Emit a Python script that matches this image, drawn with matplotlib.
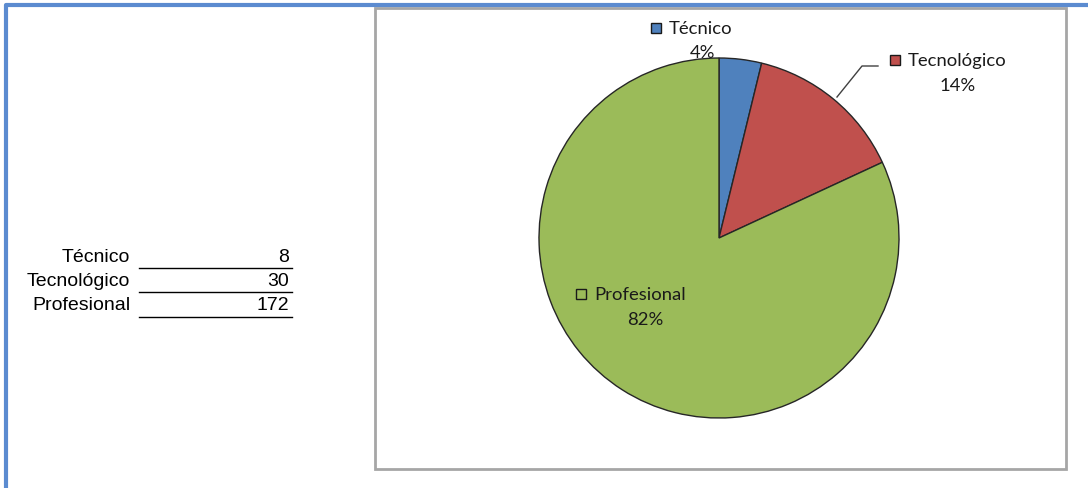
import matplotlib.pyplot as plt
from matplotlib.patches import Rectangle

# Data
categories = ["Técnico", "Tecnológico", "Profesional"]
counts = [8, 30, 172]
colors = ["#4F81BD", "#C0504D", "#9BBB59"]

W, H = 1088, 489
fig = plt.figure(figsize=(W / 100, H / 100), dpi=100)

# Pie in its own axes (drawn underneath)
cx, cy, r = 719, 239, 180
pax = fig.add_axes([(cx - r) / W, 1 - (cy + r) / H, 2 * r / W, 2 * r / H])
pax.pie(counts, colors=colors, startangle=90, counterclock=False,
        wedgeprops=dict(edgecolor="#262626", linewidth=1))
pax.set_xlim(-1, 1)
pax.set_ylim(-1, 1)
pax.set_aspect("auto")
pax.axis("off")

# Overlay axes in pixel coordinates
ax = fig.add_axes([0, 0, 1, 1])
ax.set_xlim(0, W)
ax.set_ylim(H, 0)
ax.axis("off")
ax.set_zorder(3)

# Outer blue frame (top and left edges)
ax.plot([6, 6, W], [H, 6, 6], color="#5B8BD0", lw=3, solid_capstyle="butt")

# Chart area box
ax.add_patch(Rectangle((375, 9), 691, 461, fill=False, ec="#A6A6A6", lw=2))

# Little table on the left
row_y = [257, 281, 306]
for name, val, y in zip(categories, counts, row_y):
    ax.text(130, y, name, ha="right", va="center", fontsize=14,
            family="Liberation Sans")
    ax.text(289, y, str(val), ha="right", va="center", fontsize=14,
            family="Liberation Sans")
    ax.plot([139, 292], [y + 11.5, y + 11.5], color="black", lw=1)

total = sum(counts)
pcts = [f"{round(100 * c / total)}%" for c in counts]

# Data labels: (marker x, name y, pct centre x, pct y)
label_pos = [(656, 29, 703, 53), (895, 61, 958, 86), (581, 295, 645, 320)]
lfont = dict(fontsize=13.3, family=["Lato", "DejaVu Sans"], color="#1a1a1a")
for (mx, ny, px, py), name, pct, col, cat in zip(label_pos, categories, pcts,
                                                colors, categories):
    fc = col if cat != "Profesional" else "none"
    ax.add_patch(Rectangle((mx - 5, ny - 5), 10, 10, fc=fc, ec="#1a1a1a",
                           lw=1, zorder=5))
    ax.text(mx + 13, ny, name, ha="left", va="center", zorder=5, **lfont)
    ax.text(px, py, pct, ha="center", va="center", zorder=5, **lfont)

# Leader line for Tecnológico
ax.plot([837, 862, 878], [98, 67, 67], color="#404040", lw=1)

fig.savefig("out.png", dpi=100)
